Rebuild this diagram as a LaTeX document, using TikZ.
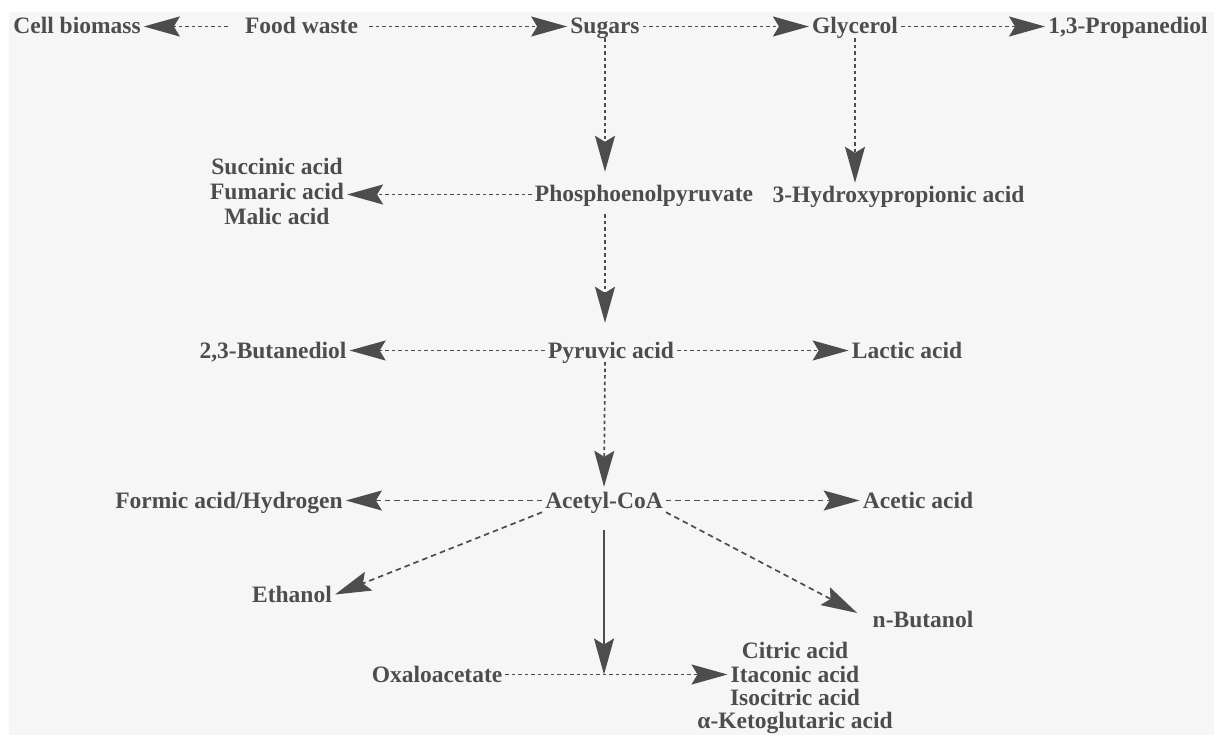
\documentclass[tikz,border=0pt]{standalone}
\usepackage{fontspec}
\setmainfont{Liberation Serif}
\usepackage{tikz}
\usetikzlibrary{arrows.meta,calc}
\definecolor{cInk}{HTML}{4D4D4D}
\definecolor{cPaper}{HTML}{F6F6F6}
\tikzset{
  chem/.style     = {font=\bfseries\fontsize{23.5}{24}\selectfont, text=cInk,
                     anchor=base, text height=16pt, text depth=1pt, inner sep=3pt},
  flow/.style     = {-{Stealth[length=36pt, width=20pt, inset=6pt]}, draw=cInk,
                     line width=1.7pt, dash pattern=on 3.5pt off 3pt},
  dashflow/.style = {flow, dash pattern=on 5.5pt off 4pt},
  mainflow/.style = {flow, solid},
}

\begin{document}
\begin{tikzpicture}[x=1pt, y=-1pt]
  \useasboundingbox (0,0) rectangle (1214,735);
  \fill[white] (0,0) rectangle (1214,735);
  \fill[cPaper] (9,12) rectangle (1214,735);
  % feedstock row
  \node[chem] (cell)        at (77,34)    {Cell biomass};
  \node[chem] (food)        at (301.5,34) {Food waste};
  \node[chem] (sugars)      at (605,34)   {Sugars};
  \node[chem] (glycerol)    at (855,34)   {Glycerol};
  \node[chem] (propanediol) at (1128,34)  {1,3-Propanediol};
  % phosphoenolpyruvate row
  \node[chem] (succinic)    at (277,175)  {Succinic acid};
  \node[chem] (fumaric)     at (277,200)  {Fumaric acid};
  \node[chem] (malic)       at (277,225)  {Malic acid};
  \node[chem] (pep)         at (644,202)  {Phosphoenolpyruvate};
  \node[chem] (hpa)         at (898.5,203) {3-Hydroxypropionic acid};
  % pyruvate row
  \node[chem] (butanediol)  at (273,358)  {2,3-Butanediol};
  \node[chem] (pyruvic)     at (611,358)  {Pyruvic acid};
  \node[chem] (lactic)      at (907,358)  {Lactic acid};
  % acetyl-CoA row
  \node[chem] (formic)      at (229,508)  {Formic acid/Hydrogen};
  \node[chem] (acetyl)      at (604,508)  {Acetyl-CoA};
  \node[chem] (acetic)      at (918,508)  {Acetic acid};
  \node[chem] (ethanol)     at (292,602)  {Ethanol};
  \node[chem] (nbutanol)    at (923,627)  {n-Butanol};
  % TCA products
  \node[chem] (oxalo)       at (437,682)  {Oxaloacetate};
  \node[chem] (citric)      at (795,658)  {Citric acid};
  \node[chem] (itaconic)    at (795,682)  {Itaconic acid};
  \node[chem] (isocitric)   at (795,705)  {Isocitric acid};
  \node[chem] (ketoglut)    at (795,728)  {α-Ketoglutaric acid};
  % flows
  \draw[flow, shorten <=14pt] (food) -- (cell);
  \draw[flow, shorten <=8pt] (food) -- (sugars);
  \draw[flow] (sugars) -- (glycerol);
  \draw[flow] (glycerol) -- (propanediol);
  \draw[flow, shorten >=11pt] (sugars.south) -- (sugars.south |- pep.north);
  \draw[flow, shorten >=1pt] (glycerol.south) -- (glycerol.south |- hpa.north);
  \draw[flow] (pep.west) -- (pep.west -| fumaric.east);
  \draw[flow, shorten <=8pt, shorten >=16pt] (sugars.south |- pep.south) -- (sugars.south |- pyruvic.north);
  \draw[flow] (pyruvic) -- (butanediol);
  \draw[flow] (pyruvic) -- (lactic);
  \draw[flow, shorten >=2pt] (sugars.south |- pyruvic.south) -- (acetyl.north);
  \draw[dashflow] (acetyl) -- (formic);
  \draw[dashflow] (acetyl) -- (acetic);
  \draw[dashflow] (acetyl.south west) -- (ethanol.east);
  \draw[dashflow, shorten >=14pt] (acetyl.south east) -- (nbutanol.west);
  \coordinate (join) at (acetyl.south |- oxalo.east);
  \draw[mainflow, shorten <=18pt] (acetyl.south) -- (join);
  \draw[flow] (oxalo) -- (itaconic);
\end{tikzpicture}
\end{document}
